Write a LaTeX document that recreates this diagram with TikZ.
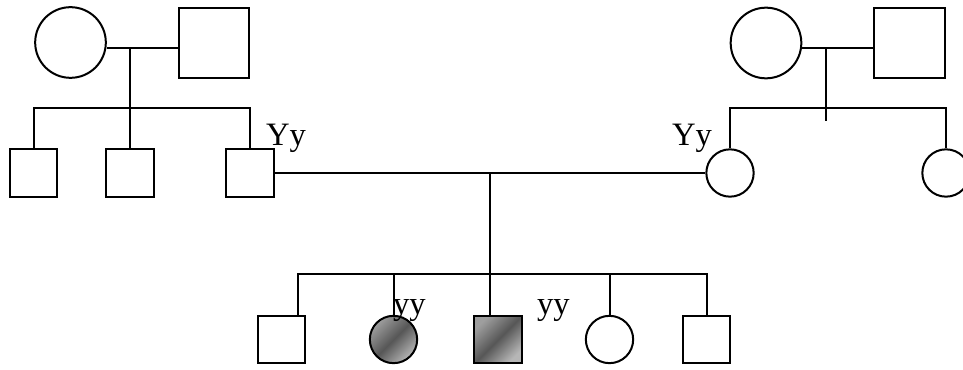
\documentclass[tikz,border=0pt]{standalone}
\usepackage{fontspec}
\setmainfont{Liberation Serif}
\usetikzlibrary{shapes.geometric, positioning, calc}

\definecolor{shadelight}{gray}{0.62}
\definecolor{shadedark}{gray}{0.34}

\begin{document}
\begin{tikzpicture}[
    x=0.75pt, y=-0.75pt,
    line width=1.5pt,
    male/.style={rectangle, draw, minimum size=35.5pt, inner sep=0pt},
    female/.style={circle, draw, minimum size=35.5pt, inner sep=0pt},
    bigmale/.style={male, minimum size=53pt},
    bigfemale/.style={female, minimum size=53pt},
    affected/.style={top color=shadelight, bottom color=shadelight!75!white, middle color=shadedark, shading angle=45},
    geno/.style={anchor=base west, inner sep=0pt, font=\fontsize{24.5}{28}\selectfont}
]
\useasboundingbox (0,0) rectangle (963,370);

% father's side
\node[bigfemale] (gm1) at (70.5,42.5) {};
\node[bigmale] (gf1) at (214,43) {};
\node[male] (u1) at (33.5,173) {};
\node[male] (u2) at (130,173) {};
\node[male] (dad) at (250,173) {};

% mother's side
\node[bigfemale] (gm2) at (766,43) {};
\node[bigmale] (gf2) at (909.5,43) {};
\node[female] (mom) at (730,173) {};
\node[female] (a1) at (946,173) {};

% children
\node[male] (k1) at (281.5,339.5) {};
\node[female, affected] (k2) at (393.5,339.5) {};
\node[male, affected] (k3) at (498,339.5) {};
\node[female] (k4) at (609.5,339.5) {};
\node[male] (k5) at (706.5,339.5) {};

\coordinate (m1) at (130,48);
\coordinate (s1) at (130,108);
\coordinate (m2) at (826,48);
\coordinate (s2) at (826,108);
\coordinate (t2) at (826,121);
\coordinate (m3) at (490,173);
\coordinate (s3) at (490,274);
\coordinate (d1) at (298,274);

\draw (gm1.east |- m1) -- (gf1.west |- m1);
\draw (m1) -- (s1);
\draw (u1.north) |- (s1) -| (dad.north);
\draw (s1) -- (u2.north);

\draw (gm2.east |- m2) -- (gf2.west |- m2);
\draw (m2) -- (t2);
\draw (mom.north) |- (s2) -| (a1.north);

\draw (dad.east) -- (mom.west);
\draw (m3) -- (s3);
\draw (d1 |- k1.north) -- (d1) -| (k5.north);
\draw (k2.north |- s3) -- (k2.north);
\draw (s3) -- (s3 |- k3.north);
\draw (k4.north |- s3) -- (k4.north);

\node[geno] (g1) at (265,146) {Yy};
\node[geno] (g2) at (671,146) {Yy};
\node[geno] (g3) at (392,314) {yy};
\node[geno] (g4) at (536,314) {yy};
\end{tikzpicture}
\end{document}
